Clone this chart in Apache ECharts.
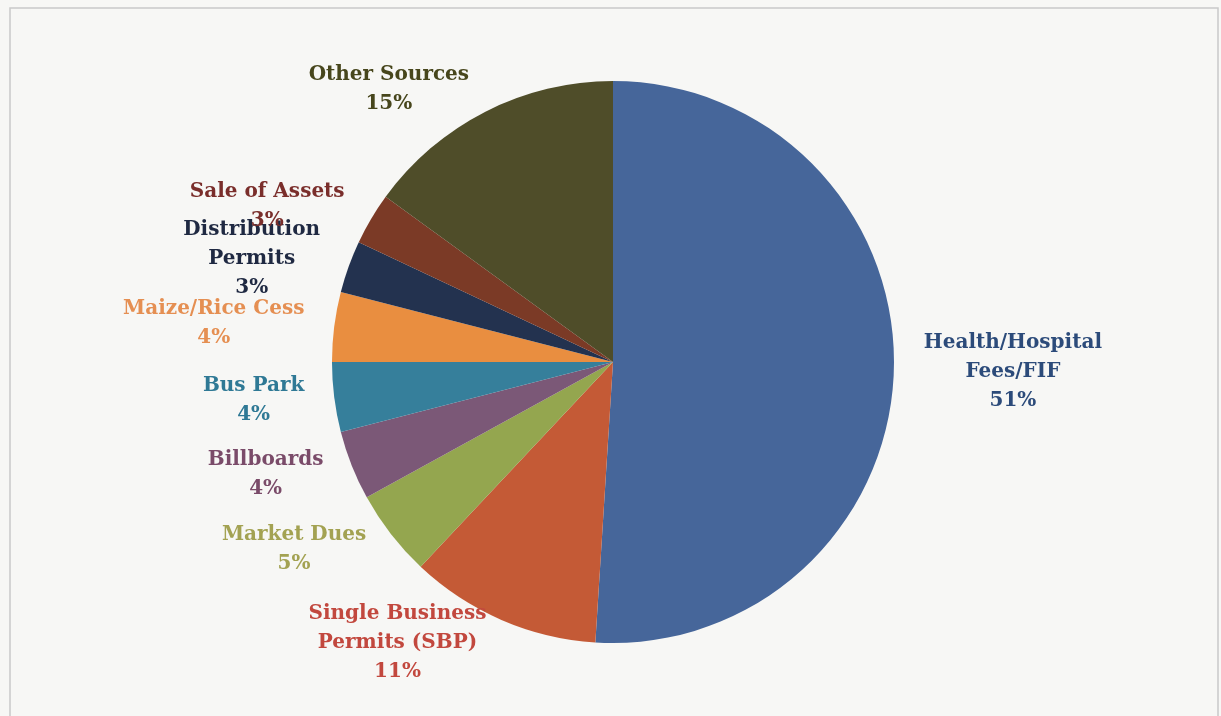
<!DOCTYPE html>
<html>
<head>
<meta charset="utf-8">
<script src="https://cdn.jsdelivr.net/npm/echarts@6/dist/echarts.min.js"></script>
<style>
  html, body { margin: 0; padding: 0; background: #f7f7f5; }
  #chart { width: 1221px; height: 716px; }
</style>
</head>
<body>
<div id="chart"></div>
<script>
// Revenue sources, share of total (%), clockwise from 12 o'clock
const categories = [
  'Health/Hospital\nFees/FIF',
  'Single Business\nPermits (SBP)',
  'Market Dues',
  'Billboards',
  'Bus Park',
  'Maize/Rice Cess',
  'Distribution\nPermits',
  'Sale of Assets',
  'Other Sources'
];
const shares = [51, 11, 5, 4, 4, 4, 3, 3, 15];

const sliceColors = ['#46669a', '#c45a36', '#94a64f', '#7b5877', '#367f9b', '#e98e40', '#23324f', '#7b3a26', '#4f4d29'];
const labelColors = ['#2c4b7a', '#c2483e', '#a3a252', '#7a4b69', '#2f7995', '#e58f52', '#1f2942', '#7a2e2b', '#47461c'];

const chart = echarts.init(document.getElementById('chart'), null, { renderer: 'canvas' });

chart.setOption({
  backgroundColor: '#f7f7f5',
  animation: false,
  graphic: [{
    type: 'rect',
    shape: { x: 10, y: 8, width: 1208, height: 730 },
    style: { fill: 'none', stroke: '#c9c9c9', lineWidth: 1.5 },
    silent: true
  }],
  series: [{
    type: 'pie',
    center: [613, 362],
    radius: 281,
    startAngle: 90,
    clockwise: true,
    avoidLabelOverlap: false,
    itemStyle: { borderWidth: 0 },
    label: {
      show: true,
      position: 'outside',
      formatter: '{b}\n{d}%',
      fontFamily: 'DejaVu Serif',
      fontWeight: 'bold',
      fontSize: 20,
      lineHeight: 29
    },
    labelLine: { show: false, length: 25, length2: 0 },
    // centre every multi-line label block on the spot the pie layout picked
    labelLayout: function (p) {
      const r = p.labelRect;
      return {
        x: r.x + r.width / 2,
        y: r.y + r.height / 2,
        align: 'center',
        verticalAlign: 'middle'
      };
    },
    data: categories.map((name, i) => ({
      name: name,
      value: shares[i],
      itemStyle: { color: sliceColors[i] },
      label: { color: labelColors[i] }
    }))
  }]
});
</script>
</body>
</html>
